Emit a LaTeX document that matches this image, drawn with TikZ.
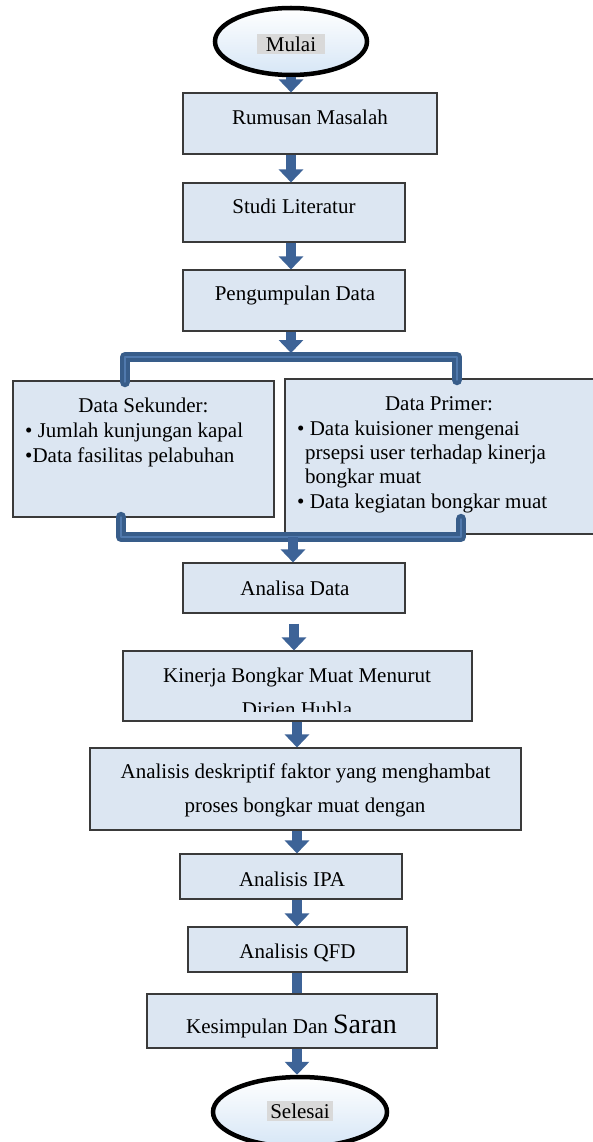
\documentclass[tikz,border=0pt]{standalone}
\usepackage{fontspec}
\setmainfont{Liberation Serif}
\usetikzlibrary{arrows.meta,shapes.geometric}

\definecolor{boxfill}{HTML}{DCE6F2}
\definecolor{boxline}{HTML}{3A3A3A}
\definecolor{flowblue}{HTML}{3D6397}
\definecolor{pipedark}{HTML}{385D8A}
\definecolor{pipelight}{HTML}{5079AD}
\definecolor{termfill}{HTML}{D6E6F6}
\definecolor{tagfill}{HTML}{D9D9D9}

\tikzset{
  box/.style={rectangle, draw=boxline, line width=1.1pt, fill=boxfill, inner sep=0pt},
  term/.style={ellipse, draw=black, line width=4.5pt, top color=white, bottom color=termfill, inner sep=0pt},
  tag/.style={fill=tagfill, inner ysep=3pt},
  txt/.style={inner sep=0pt, anchor=base},
  item/.style={inner sep=0pt, anchor=base west},
  flow/.style={draw=flowblue, line width=9.5pt, -{Triangle[width=24pt,length=13pt]}},
  shaft/.style={draw=flowblue, line width=9.5pt},
  pipe/.style={draw=pipedark, line width=4.5pt, double=pipelight, double distance=1.5pt, line cap=round, line join=round},
}

\begin{document}
\begin{tikzpicture}[x=1pt,y=-1pt,font=\fontsize{21}{25}\selectfont]
\useasboundingbox (0,0) rectangle (593,1142);

% x positions of the arrows
\coordinate (top) at (291,0);
\coordinate (mid) at (294,0);
\coordinate (low) at (297,0);

% start / end
\node[term, minimum width=152pt, minimum height=67pt] (mulai) at (291,41.5) {};
\node[term, minimum width=174pt, minimum height=70pt] (selesai) at (300,1112) {};

% boxes
\node[box, minimum width=254pt, minimum height=61pt] (rumusan) at (310,123.5) {};
\node[box, minimum width=222pt, minimum height=59pt] (studi) at (294,212.5) {};
\node[box, minimum width=222pt, minimum height=61pt] (pengumpulan) at (294,300.5) {};
\node[box, minimum width=261pt, minimum height=136pt] (sekunder) at (143.5,449) {};
\node[box, minimum width=315pt, minimum height=155pt] (primer) at (442.5,456.5) {};
\node[box, minimum width=222pt, minimum height=50pt] (analisa) at (294,588) {};
\node[box, minimum width=349pt, minimum height=70pt] (kinerja) at (297.5,686) {};
\node[box, minimum width=431pt, minimum height=82pt] (deskriptif) at (305.5,789) {};
\node[box, minimum width=222pt, minimum height=45pt] (ipa) at (291,876.5) {};
\node[box, minimum width=219pt, minimum height=45pt] (qfd) at (297.5,949.5) {};
\node[box, minimum width=290pt, minimum height=54pt] (kesimpulan) at (292,1021) {};

% texts
\node[tag, inner xsep=9pt] (mulaiTag) at (291,44) {Mulai};
\node[tag, inner xsep=3pt] (selesaiTag) at (300,1111) {Selesai};
\node[txt] (rumusanText) at (310,125) {Rumusan Masalah};
\node[txt] (studiText) at (294,213) {Studi Literatur};
\node[txt] (pengumpulanText) at (295,300) {Pengumpulan Data};

\node[txt] (sekunderTitle) at (143.5,412) {Data Sekunder:};
\node[item] (sekunderA) at (25,437) {\textbullet\ Jumlah kunjungan kapal};
\node[item] (sekunderB) at (25,462) {\textbullet Data fasilitas pelabuhan};

\node[txt] (primerTitle) at (439,410) {Data Primer:};
\node[item] (primerA) at (297,435) {\textbullet\ Data kuisioner mengenai};
\node[item] (primerB) at (305,459) {prsepsi user terhadap kinerja};
\node[item] (primerC) at (305,483) {bongkar muat};
\node[item] (primerD) at (297,508) {\textbullet\ Data kegiatan bongkar muat};

\node[txt] (analisaText) at (295,595) {Analisa Data};
\node[txt] (kinerjaA) at (297,682) {Kinerja Bongkar Muat Menurut};
\begin{scope}
  \clip (kinerja.north west) rectangle ([yshift=10pt]kinerja.south east);
  \node[txt] (kinerjaB) at (297,716) {Dirien Hubla};
\end{scope}
\node[txt] (deskriptifA) at (305.5,778) {Analisis deskriptif faktor yang menghambat};
\node[txt] (deskriptifB) at (305,812) {proses bongkar muat dengan};
\node[txt] (ipaText) at (292,886) {Analisis IPA};
\node[txt] (qfdText) at (297.5,958) {Analisis QFD};
\node[txt] (kesimpulanText) at (291.5,1033) {Kesimpulan Dan {\fontsize{28}{30}\selectfont Saran}};

% split and join
\coordinate (split) at (291,357);
\coordinate (splitL) at (125,382);
\coordinate (splitR) at (457,380);
\coordinate (join) at (293,537);
\coordinate (joinL) at (121,517);
\coordinate (joinR) at (461,519);
\draw[pipe] (splitL) |- (split) -| (splitR);
\draw[pipe] (joinL) |- (join) -| (joinR);

% arrows
\draw[flow] (mulai.south -| top) -- (rumusan.north -| top);
\draw[flow] (rumusan.south -| top) -- (studi.north -| top);
\draw[flow] (studi.south -| top) -- (pengumpulan.north -| top);
\draw[flow, shorten >=4pt] (pengumpulan.south -| split) -- (split);
\draw[flow] (join) -- (analisa.north -| join);
\draw[flow, shorten <=10pt] (analisa.south -| mid) -- (kinerja.north -| mid);
\draw[flow] (kinerja.south -| low) -- (deskriptif.north -| low);
\draw[flow] (deskriptif.south -| low) -- (ipa.north -| low);
\draw[flow] (ipa.south -| low) -- (qfd.north -| low);
\draw[shaft] (qfd.south -| low) -- (kesimpulan.north -| low);
\draw[flow] (kesimpulan.south -| low) -- (selesai.north -| low);
\end{tikzpicture}
\end{document}
